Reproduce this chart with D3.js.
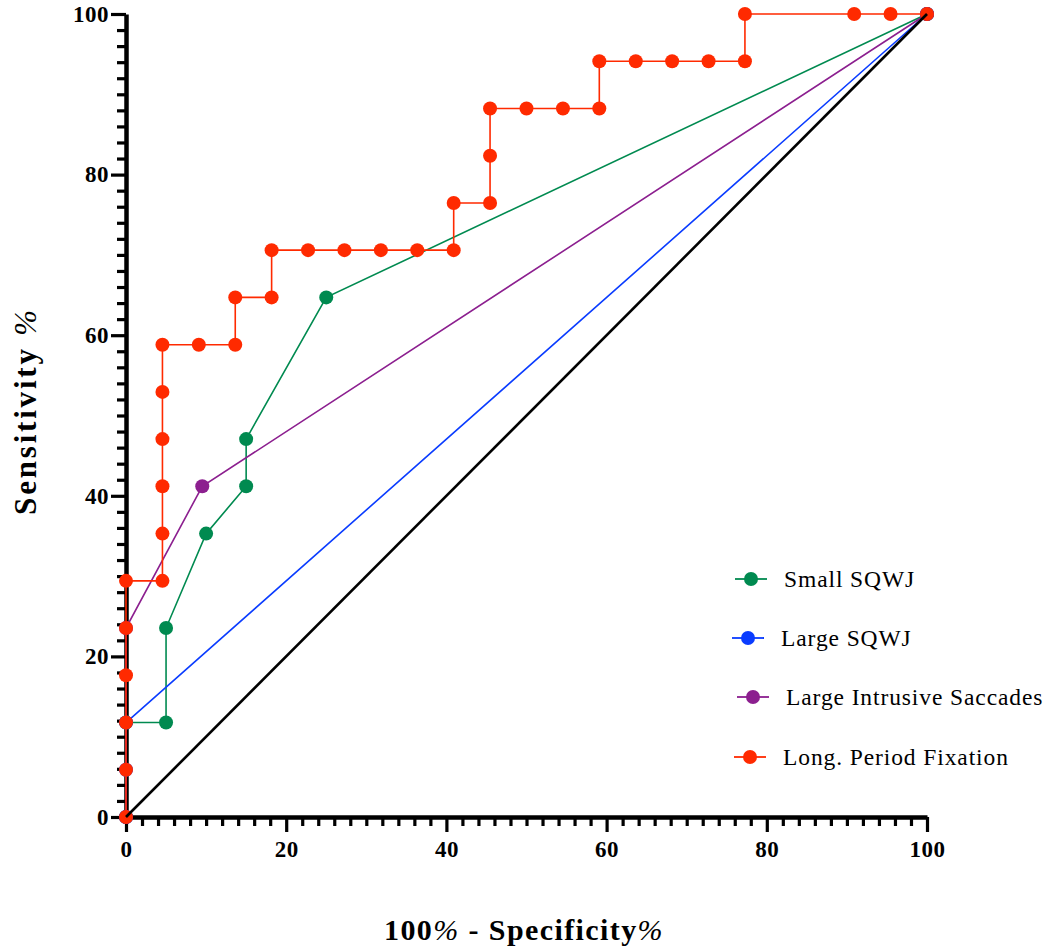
<!DOCTYPE html>
<html>
<head>
<meta charset="utf-8">
<script src="https://cdn.jsdelivr.net/npm/d3@7"></script>
<style>
  html, body { margin: 0; padding: 0; background: #fff; }
  svg { display: block; }
  text { font-family: "Liberation Serif", "DejaVu Serif", serif; fill: #000; }
</style>
</head>
<body>
<svg id="chart" width="1050" height="951"></svg>
<script>
// ROC curves: 100% - specificity (x) vs sensitivity (y), both in percent
const smallSQWJ_x = [0, 0, 5, 5, 10, 15, 15, 25, 100];
const smallSQWJ_y = [0, 11.76, 11.76, 23.53, 35.29, 41.18, 47.06, 64.71, 100];

const largeSQWJ_x = [0, 0, 0, 100];
const largeSQWJ_y = [0, 5.88, 11.76, 100];

const largeIntrusive_x = [0, 0, 9.52, 100];
const largeIntrusive_y = [0, 23.53, 41.18, 100];

const longFixation_x = [0, 0, 0, 0, 0, 0, 4.55, 4.55, 4.55, 4.55, 4.55, 4.55, 9.09, 13.64, 13.64,
  18.18, 18.18, 22.73, 27.27, 31.82, 36.36, 40.91, 40.91, 45.45, 45.45, 45.45, 50, 54.55, 59.09,
  59.09, 63.64, 68.18, 72.73, 77.27, 77.27, 90.91, 95.45, 100];
const longFixation_y = [0, 5.88, 11.76, 17.65, 23.53, 29.41, 29.41, 35.29, 41.18, 47.06, 52.94, 58.82,
  58.82, 58.82, 64.71, 64.71, 70.59, 70.59, 70.59, 70.59, 70.59, 70.59, 76.47, 76.47, 82.35, 88.24,
  88.24, 88.24, 88.24, 94.12, 94.12, 94.12, 94.12, 94.12, 100, 100, 100, 100];

const seriesNames = ["Small SQWJ", "Large SQWJ", "Large Intrusive Saccades", "Long. Period Fixation"];
const seriesColors = ["#008a50", "#0a3cff", "#8c1f8f", "#ff2a00"];

const xTicks = [0, 20, 40, 60, 80, 100];
const yTicks = [0, 20, 40, 60, 80, 100];

const series = [
  { name: seriesNames[0], color: seriesColors[0], xs: smallSQWJ_x, ys: smallSQWJ_y },
  { name: seriesNames[1], color: seriesColors[1], xs: largeSQWJ_x, ys: largeSQWJ_y },
  { name: seriesNames[2], color: seriesColors[2], xs: largeIntrusive_x, ys: largeIntrusive_y },
  { name: seriesNames[3], color: seriesColors[3], xs: longFixation_x, ys: longFixation_y }
];

const svg = d3.select("#chart");
const x = d3.scaleLinear().domain([0, 100]).range([126, 927]);
const y = d3.scaleLinear().domain([0, 100]).range([817, 14]);

const minorVals = d3.range(0, 101, 2).filter(v => v % 20 !== 0);

// Axes
const axisStyle = g => {
  g.select(".domain").attr("stroke", "#000").attr("stroke-width", 4.5);
  g.selectAll(".tick line").attr("stroke", "#000").attr("stroke-width", 3.2);
  g.selectAll(".tick text").style("font-weight", "bold").style("font-size", "23px")
    .style("font-family", "'Liberation Serif', serif").style("letter-spacing", "0.5px").attr("fill", "#000");
};

svg.append("g").attr("transform", "translate(0,817)")
  .call(d3.axisBottom(x).tickValues(minorVals).tickSize(9).tickFormat(""))
  .call(g => { g.select(".domain").remove(); g.selectAll(".tick line").attr("stroke", "#000").attr("stroke-width", 3.2); });
svg.append("g").attr("transform", "translate(0,817)")
  .call(d3.axisBottom(x).tickValues(xTicks).tickSize(15).tickSizeOuter(0).tickPadding(9).tickFormat(d3.format("d")))
  .call(axisStyle);

svg.append("g").attr("transform", "translate(126,0)")
  .call(d3.axisLeft(y).tickValues(minorVals).tickSize(9).tickFormat(""))
  .call(g => { g.select(".domain").remove(); g.selectAll(".tick line").attr("stroke", "#000").attr("stroke-width", 3.2); });
svg.append("g").attr("transform", "translate(126,0)")
  .call(d3.axisLeft(y).tickValues(yTicks).tickSize(15).tickSizeOuter(0).tickPadding(2).tickFormat(d3.format("d")))
  .call(axisStyle);

// Axis titles
const xTitle = svg.append("text")
  .attr("x", 524).attr("y", 940)
  .attr("text-anchor", "middle")
  .style("font-size", "30px").style("font-weight", "bold").style("letter-spacing", "1.4px");
xTitle.append("tspan").text("100");
xTitle.append("tspan").style("font-weight", "normal").style("font-style", "italic").text("%");
xTitle.append("tspan").text(" - Specificity");
xTitle.append("tspan").style("font-weight", "normal").style("font-style", "italic").text("%");

const yTitle = svg.append("text")
  .attr("transform", "translate(36,411) rotate(-90)")
  .attr("text-anchor", "middle")
  .style("font-size", "31px").style("font-weight", "bold").style("letter-spacing", "2.8px");
yTitle.append("tspan").text("Sensitivity ");
yTitle.append("tspan").style("font-weight", "normal").style("font-style", "italic").text("%");

// Curves
const line = d3.line().x(d => x(d[0])).y(d => y(d[1]));
series.forEach(s => {
  const pts = s.xs.map((v, i) => [v, s.ys[i]]);
  const g = svg.append("g");
  g.append("path").datum(pts).attr("d", line)
    .attr("fill", "none").attr("stroke", s.color).attr("stroke-width", 1.6);
  g.selectAll("circle").data(pts).join("circle")
    .attr("cx", d => x(d[0])).attr("cy", d => y(d[1])).attr("r", 7)
    .attr("fill", s.color);
});

// Reference diagonal
svg.append("line")
  .attr("x1", x(0)).attr("y1", y(0)).attr("x2", x(100)).attr("y2", y(100))
  .attr("stroke", "#000").attr("stroke-width", 2.6);

// Legend
const legendRows = [579, 638, 697, 757];
const legendOffsets = [0, -3, 2, -1];
const leg = svg.append("g");
series.forEach((s, i) => {
  const ly = legendRows[i];
  const dx = legendOffsets[i];
  leg.append("line").attr("x1", 735 + dx).attr("x2", 767 + dx).attr("y1", ly).attr("y2", ly)
    .attr("stroke", s.color).attr("stroke-width", 1.8);
  leg.append("circle").attr("cx", 751 + dx).attr("cy", ly).attr("r", 7).attr("fill", s.color);
  leg.append("text").attr("x", 784 + dx).attr("y", ly + 8)
    .style("font-size", "23.5px").style("letter-spacing", "0.9px").text(s.name);
});
</script>
</body>
</html>
